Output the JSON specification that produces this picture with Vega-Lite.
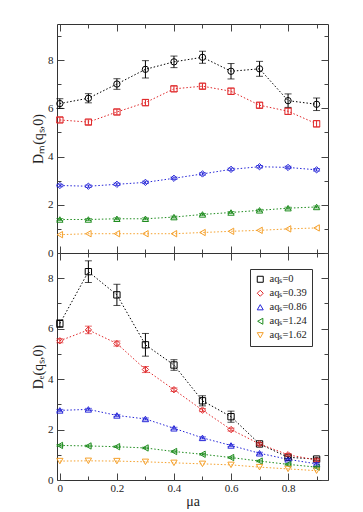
{
  "$schema": "https://vega.github.io/schema/vega-lite/v6.json",
  "background": "white",
  "padding": {"left": 31, "top": 23, "right": 20, "bottom": 5},
  "datasets": {
    "top": [
      {"x": 0.0, "v": 6.2, "e": 0.2, "s": "aqₛ=0"},
      {"x": 0.1, "v": 6.42, "e": 0.19, "s": "aqₛ=0"},
      {"x": 0.2, "v": 7.01, "e": 0.22, "s": "aqₛ=0"},
      {"x": 0.3, "v": 7.62, "e": 0.36, "s": "aqₛ=0"},
      {"x": 0.4, "v": 7.93, "e": 0.24, "s": "aqₛ=0"},
      {"x": 0.5, "v": 8.12, "e": 0.25, "s": "aqₛ=0"},
      {"x": 0.6, "v": 7.54, "e": 0.32, "s": "aqₛ=0"},
      {"x": 0.7, "v": 7.64, "e": 0.31, "s": "aqₛ=0"},
      {"x": 0.8, "v": 6.32, "e": 0.28, "s": "aqₛ=0"},
      {"x": 0.9, "v": 6.17, "e": 0.26, "s": "aqₛ=0"},
      {"x": 0.0, "v": 5.52, "e": 0.1, "s": "aqₛ=0.39"},
      {"x": 0.1, "v": 5.43, "e": 0.1, "s": "aqₛ=0.39"},
      {"x": 0.2, "v": 5.85, "e": 0.11, "s": "aqₛ=0.39"},
      {"x": 0.3, "v": 6.24, "e": 0.13, "s": "aqₛ=0.39"},
      {"x": 0.4, "v": 6.81, "e": 0.11, "s": "aqₛ=0.39"},
      {"x": 0.5, "v": 6.92, "e": 0.11, "s": "aqₛ=0.39"},
      {"x": 0.6, "v": 6.71, "e": 0.13, "s": "aqₛ=0.39"},
      {"x": 0.7, "v": 6.13, "e": 0.11, "s": "aqₛ=0.39"},
      {"x": 0.8, "v": 5.88, "e": 0.13, "s": "aqₛ=0.39"},
      {"x": 0.9, "v": 5.36, "e": 0.13, "s": "aqₛ=0.39"},
      {"x": 0.0, "v": 2.8, "e": 0.05, "s": "aqₛ=0.86"},
      {"x": 0.1, "v": 2.77, "e": 0.05, "s": "aqₛ=0.86"},
      {"x": 0.2, "v": 2.85, "e": 0.05, "s": "aqₛ=0.86"},
      {"x": 0.3, "v": 2.93, "e": 0.05, "s": "aqₛ=0.86"},
      {"x": 0.4, "v": 3.1, "e": 0.05, "s": "aqₛ=0.86"},
      {"x": 0.5, "v": 3.28, "e": 0.05, "s": "aqₛ=0.86"},
      {"x": 0.6, "v": 3.47, "e": 0.05, "s": "aqₛ=0.86"},
      {"x": 0.7, "v": 3.58, "e": 0.05, "s": "aqₛ=0.86"},
      {"x": 0.8, "v": 3.55, "e": 0.05, "s": "aqₛ=0.86"},
      {"x": 0.9, "v": 3.45, "e": 0.05, "s": "aqₛ=0.86"},
      {"x": 0.0, "v": 1.39, "e": 0.04, "s": "aqₛ=1.24"},
      {"x": 0.1, "v": 1.39, "e": 0.04, "s": "aqₛ=1.24"},
      {"x": 0.2, "v": 1.42, "e": 0.04, "s": "aqₛ=1.24"},
      {"x": 0.3, "v": 1.42, "e": 0.04, "s": "aqₛ=1.24"},
      {"x": 0.4, "v": 1.49, "e": 0.04, "s": "aqₛ=1.24"},
      {"x": 0.5, "v": 1.6, "e": 0.04, "s": "aqₛ=1.24"},
      {"x": 0.6, "v": 1.68, "e": 0.04, "s": "aqₛ=1.24"},
      {"x": 0.7, "v": 1.77, "e": 0.04, "s": "aqₛ=1.24"},
      {"x": 0.8, "v": 1.86, "e": 0.04, "s": "aqₛ=1.24"},
      {"x": 0.9, "v": 1.91, "e": 0.04, "s": "aqₛ=1.24"},
      {"x": 0.0, "v": 0.76, "e": 0, "s": "aqₛ=1.62"},
      {"x": 0.1, "v": 0.8, "e": 0, "s": "aqₛ=1.62"},
      {"x": 0.2, "v": 0.8, "e": 0, "s": "aqₛ=1.62"},
      {"x": 0.3, "v": 0.8, "e": 0, "s": "aqₛ=1.62"},
      {"x": 0.4, "v": 0.8, "e": 0, "s": "aqₛ=1.62"},
      {"x": 0.5, "v": 0.85, "e": 0, "s": "aqₛ=1.62"},
      {"x": 0.6, "v": 0.9, "e": 0, "s": "aqₛ=1.62"},
      {"x": 0.7, "v": 0.94, "e": 0, "s": "aqₛ=1.62"},
      {"x": 0.8, "v": 1.0, "e": 0, "s": "aqₛ=1.62"},
      {"x": 0.9, "v": 1.04, "e": 0, "s": "aqₛ=1.62"}
    ],
    "bottom": [
      {"x": 0.0, "v": 6.2, "e": 0.15, "s": "aqₛ=0"},
      {"x": 0.1, "v": 8.26, "e": 0.43, "s": "aqₛ=0"},
      {"x": 0.2, "v": 7.34, "e": 0.42, "s": "aqₛ=0"},
      {"x": 0.3, "v": 5.36, "e": 0.45, "s": "aqₛ=0"},
      {"x": 0.4, "v": 4.56, "e": 0.21, "s": "aqₛ=0"},
      {"x": 0.5, "v": 3.14, "e": 0.2, "s": "aqₛ=0"},
      {"x": 0.6, "v": 2.51, "e": 0.22, "s": "aqₛ=0"},
      {"x": 0.7, "v": 1.43, "e": 0.05, "s": "aqₛ=0"},
      {"x": 0.8, "v": 0.9, "e": 0.05, "s": "aqₛ=0"},
      {"x": 0.9, "v": 0.83, "e": 0.05, "s": "aqₛ=0"},
      {"x": 0.0, "v": 5.52, "e": 0.08, "s": "aqₛ=0.39"},
      {"x": 0.1, "v": 5.95, "e": 0.15, "s": "aqₛ=0.39"},
      {"x": 0.2, "v": 5.41, "e": 0.1, "s": "aqₛ=0.39"},
      {"x": 0.3, "v": 4.38, "e": 0.12, "s": "aqₛ=0.39"},
      {"x": 0.4, "v": 3.58, "e": 0.07, "s": "aqₛ=0.39"},
      {"x": 0.5, "v": 2.77, "e": 0.06, "s": "aqₛ=0.39"},
      {"x": 0.6, "v": 2.0, "e": 0.06, "s": "aqₛ=0.39"},
      {"x": 0.7, "v": 1.43, "e": 0.05, "s": "aqₛ=0.39"},
      {"x": 0.8, "v": 1.0, "e": 0.05, "s": "aqₛ=0.39"},
      {"x": 0.9, "v": 0.79, "e": 0.05, "s": "aqₛ=0.39"},
      {"x": 0.0, "v": 2.76, "e": 0.04, "s": "aqₛ=0.86"},
      {"x": 0.1, "v": 2.8, "e": 0.04, "s": "aqₛ=0.86"},
      {"x": 0.2, "v": 2.56, "e": 0.04, "s": "aqₛ=0.86"},
      {"x": 0.3, "v": 2.42, "e": 0.04, "s": "aqₛ=0.86"},
      {"x": 0.4, "v": 2.05, "e": 0.04, "s": "aqₛ=0.86"},
      {"x": 0.5, "v": 1.67, "e": 0.04, "s": "aqₛ=0.86"},
      {"x": 0.6, "v": 1.37, "e": 0.04, "s": "aqₛ=0.86"},
      {"x": 0.7, "v": 1.06, "e": 0.04, "s": "aqₛ=0.86"},
      {"x": 0.8, "v": 0.82, "e": 0.04, "s": "aqₛ=0.86"},
      {"x": 0.9, "v": 0.64, "e": 0.04, "s": "aqₛ=0.86"},
      {"x": 0.0, "v": 1.37, "e": 0.03, "s": "aqₛ=1.24"},
      {"x": 0.1, "v": 1.35, "e": 0.03, "s": "aqₛ=1.24"},
      {"x": 0.2, "v": 1.32, "e": 0.03, "s": "aqₛ=1.24"},
      {"x": 0.3, "v": 1.27, "e": 0.03, "s": "aqₛ=1.24"},
      {"x": 0.4, "v": 1.13, "e": 0.03, "s": "aqₛ=1.24"},
      {"x": 0.5, "v": 1.02, "e": 0.03, "s": "aqₛ=1.24"},
      {"x": 0.6, "v": 0.89, "e": 0.03, "s": "aqₛ=1.24"},
      {"x": 0.7, "v": 0.75, "e": 0.03, "s": "aqₛ=1.24"},
      {"x": 0.8, "v": 0.62, "e": 0.03, "s": "aqₛ=1.24"},
      {"x": 0.9, "v": 0.51, "e": 0.03, "s": "aqₛ=1.24"},
      {"x": 0.0, "v": 0.75, "e": 0, "s": "aqₛ=1.62"},
      {"x": 0.1, "v": 0.76, "e": 0, "s": "aqₛ=1.62"},
      {"x": 0.2, "v": 0.75, "e": 0, "s": "aqₛ=1.62"},
      {"x": 0.3, "v": 0.72, "e": 0, "s": "aqₛ=1.62"},
      {"x": 0.4, "v": 0.68, "e": 0, "s": "aqₛ=1.62"},
      {"x": 0.5, "v": 0.64, "e": 0, "s": "aqₛ=1.62"},
      {"x": 0.6, "v": 0.6, "e": 0, "s": "aqₛ=1.62"},
      {"x": 0.7, "v": 0.51, "e": 0, "s": "aqₛ=1.62"},
      {"x": 0.8, "v": 0.44, "e": 0, "s": "aqₛ=1.62"},
      {"x": 0.9, "v": 0.37, "e": 0, "s": "aqₛ=1.62"}
    ]
  },
  "vconcat": [
    {
      "width": 271,
      "height": 229,
      "data": {"name": "top"},
      "layer": [
        {
          "mark": {"type": "line", "strokeDash": [1.5, 2], "strokeWidth": 1},
          "encoding": {
            "x": {"field": "x", "type": "quantitative", "scale": {"domain": [-0.01, 0.94], "nice": false, "zero": false},
              "axis": {"orient": "bottom", "values": [0, 0.1, 0.2, 0.3, 0.4, 0.5, 0.6, 0.7, 0.8, 0.9], "labels": false, "title": null, "minExtent": 0, "maxExtent": 0,
                "tickSize": {"condition": {"test": "round(datum.value*10) % 2 == 0", "value": -7}, "value": -4}}},
            "y": {"field": "v", "type": "quantitative", "scale": {"domain": [0, 9.5], "nice": false},
              "axis": {"orient": "left", "values": [0, 1, 2, 3, 4, 5, 6, 7, 8, 9], "labelExpr": "datum.value % 2 == 0 ? datum.label : ''",
                "tickSize": {"condition": {"test": "datum.value % 2 == 0", "value": -7}, "value": -4},
                "labelPadding": 11, "title": "Dₘ(qₛ,0)", "titlePadding": 2}},
            "color": {"field": "s", "type": "nominal", "legend": null,
              "scale": {"domain": ["aqₛ=0", "aqₛ=0.39", "aqₛ=0.86", "aqₛ=1.24", "aqₛ=1.62"], "range": ["#000000", "#e0282a", "#2626d8", "#1e8c1e", "#f5a02a"]}}
          }
        },
        {
          "mark": {"type": "point", "filled": false, "size": 40, "strokeWidth": 1, "opacity": 1},
          "encoding": {
            "x": {"field": "x", "type": "quantitative",
              "axis": {"orient": "top", "values": [0, 0.1, 0.2, 0.3, 0.4, 0.5, 0.6, 0.7, 0.8, 0.9], "labels": false, "title": null, "minExtent": 0, "maxExtent": 0,
                "tickSize": {"condition": {"test": "round(datum.value*10) % 2 == 0", "value": -7}, "value": -4}}},
            "y": {"field": "v", "type": "quantitative",
              "axis": {"orient": "right", "values": [0, 1, 2, 3, 4, 5, 6, 7, 8, 9], "labels": false, "title": null, "minExtent": 0, "maxExtent": 0,
                "tickSize": {"condition": {"test": "datum.value % 2 == 0", "value": -7}, "value": -4}}},
            "color": {"field": "s", "type": "nominal", "legend": null},
            "shape": {"field": "s", "type": "nominal", "legend": null,
              "scale": {"domain": ["aqₛ=0", "aqₛ=0.39", "aqₛ=0.86", "aqₛ=1.24", "aqₛ=1.62"], "range": ["circle", "square", "diamond", "triangle-up", "triangle-left"]}}
          }
        },
        {
          "transform": [{"filter": "datum.s == 'aqₛ=0'"}],
          "mark": {"type": "errorbar", "ticks": {"size": 7}, "thickness": 1, "color": "#000000"},
          "encoding": {"x": {"field": "x", "type": "quantitative", "axis": null}, "y": {"field": "v", "type": "quantitative", "axis": null}, "yError": {"field": "e"}}
        },
        {
          "transform": [{"filter": "datum.s == 'aqₛ=0.39'"}],
          "mark": {"type": "errorbar", "ticks": {"size": 7}, "thickness": 1, "color": "#e0282a"},
          "encoding": {"x": {"field": "x", "type": "quantitative", "axis": null}, "y": {"field": "v", "type": "quantitative", "axis": null}, "yError": {"field": "e"}}
        },
        {
          "transform": [{"filter": "datum.s == 'aqₛ=0.86'"}],
          "mark": {"type": "errorbar", "ticks": {"size": 7}, "thickness": 1, "color": "#2626d8"},
          "encoding": {"x": {"field": "x", "type": "quantitative", "axis": null}, "y": {"field": "v", "type": "quantitative", "axis": null}, "yError": {"field": "e"}}
        },
        {
          "transform": [{"filter": "datum.s == 'aqₛ=1.24'"}],
          "mark": {"type": "errorbar", "ticks": {"size": 7}, "thickness": 1, "color": "#1e8c1e"},
          "encoding": {"x": {"field": "x", "type": "quantitative", "axis": null}, "y": {"field": "v", "type": "quantitative", "axis": null}, "yError": {"field": "e"}}
        }
      ],
      "resolve": {"axis": {"x": "independent", "y": "independent"}}
    },
    {
      "width": 271,
      "height": 227,
      "data": {"name": "bottom"},
      "layer": [
        {
          "mark": {"type": "line", "strokeDash": [1.5, 2], "strokeWidth": 1},
          "encoding": {
            "x": {"field": "x", "type": "quantitative", "scale": {"domain": [-0.01, 0.94], "nice": false, "zero": false},
              "axis": {"orient": "bottom", "values": [0, 0.1, 0.2, 0.3, 0.4, 0.5, 0.6, 0.7, 0.8, 0.9],
                "labelExpr": "round(datum.value*10) % 2 == 0 ? format(datum.value, '~g') : ''",
                "tickSize": {"condition": {"test": "round(datum.value*10) % 2 == 0", "value": -7}, "value": -4},
                "labelPadding": 9, "title": "μa", "titlePadding": 1}},
            "y": {"field": "v", "type": "quantitative", "scale": {"domain": [0, 9], "nice": false},
              "axis": {"orient": "left", "values": [0, 1, 2, 3, 4, 5, 6, 7, 8, 9], "labelExpr": "datum.value % 2 == 0 ? datum.label : ''",
                "tickSize": {"condition": {"test": "datum.value % 2 == 0", "value": -7}, "value": -4},
                "labelPadding": 11, "title": "Dₑ(qₛ,0)", "titlePadding": 2}},
            "color": {"field": "s", "type": "nominal",
              "scale": {"domain": ["aqₛ=0", "aqₛ=0.39", "aqₛ=0.86", "aqₛ=1.24", "aqₛ=1.62"], "range": ["#000000", "#e0282a", "#2626d8", "#1e8c1e", "#f5a02a"]},
              "legend": {"orient": "top-right", "offset": 16, "symbolSize": 36, "rowPadding": 3, "labelOffset": 4,
                "labelFont": "Liberation Serif", "labelFontSize": 10.5, "symbolStrokeWidth": 1, "symbolFillColor": "transparent"}}
          }
        },
        {
          "mark": {"type": "point", "filled": false, "size": 40, "strokeWidth": 1, "opacity": 1},
          "encoding": {
            "x": {"field": "x", "type": "quantitative",
              "axis": {"orient": "top", "values": [0, 0.1, 0.2, 0.3, 0.4, 0.5, 0.6, 0.7, 0.8, 0.9], "labels": false, "title": null, "minExtent": 0, "maxExtent": 0,
                "tickSize": {"condition": {"test": "round(datum.value*10) % 2 == 0", "value": -7}, "value": -4}}},
            "y": {"field": "v", "type": "quantitative",
              "axis": {"orient": "right", "values": [0, 1, 2, 3, 4, 5, 6, 7, 8, 9], "labels": false, "title": null, "minExtent": 0, "maxExtent": 0,
                "tickSize": {"condition": {"test": "datum.value % 2 == 0", "value": -7}, "value": -4}}},
            "color": {"field": "s", "type": "nominal"},
            "shape": {"field": "s", "type": "nominal",
              "scale": {"domain": ["aqₛ=0", "aqₛ=0.39", "aqₛ=0.86", "aqₛ=1.24", "aqₛ=1.62"], "range": ["square", "diamond", "triangle-up", "triangle-left", "triangle-down"]}}
          }
        },
        {
          "transform": [{"filter": "datum.s == 'aqₛ=0'"}],
          "mark": {"type": "errorbar", "ticks": {"size": 7}, "thickness": 1, "color": "#000000"},
          "encoding": {"x": {"field": "x", "type": "quantitative", "axis": null}, "y": {"field": "v", "type": "quantitative", "axis": null}, "yError": {"field": "e"}}
        },
        {
          "transform": [{"filter": "datum.s == 'aqₛ=0.39'"}],
          "mark": {"type": "errorbar", "ticks": {"size": 7}, "thickness": 1, "color": "#e0282a"},
          "encoding": {"x": {"field": "x", "type": "quantitative", "axis": null}, "y": {"field": "v", "type": "quantitative", "axis": null}, "yError": {"field": "e"}}
        },
        {
          "transform": [{"filter": "datum.s == 'aqₛ=0.86'"}],
          "mark": {"type": "errorbar", "ticks": {"size": 7}, "thickness": 1, "color": "#2626d8"},
          "encoding": {"x": {"field": "x", "type": "quantitative", "axis": null}, "y": {"field": "v", "type": "quantitative", "axis": null}, "yError": {"field": "e"}}
        },
        {
          "transform": [{"filter": "datum.s == 'aqₛ=1.24'"}],
          "mark": {"type": "errorbar", "ticks": {"size": 7}, "thickness": 1, "color": "#1e8c1e"},
          "encoding": {"x": {"field": "x", "type": "quantitative", "axis": null}, "y": {"field": "v", "type": "quantitative", "axis": null}, "yError": {"field": "e"}}
        }
      ],
      "resolve": {"axis": {"x": "independent", "y": "independent"}}
    }
  ],
  "spacing": 0,
  "bounds": "flush",
  "resolve": {"scale": {"y": "independent", "color": "independent", "shape": "independent"}, "legend": {"color": "independent", "shape": "independent"}},
  "config": {
    "font": "Liberation Serif",
    "view": {"stroke": "#333333", "strokeWidth": 1},
    "axis": {"domain": false, "grid": false, "labelFont": "Liberation Serif", "labelFontSize": 11, "labelColor": "#222222",
      "tickColor": "#444444", "tickWidth": 1, "titleFont": "Liberation Serif", "titleFontSize": 14, "titleFontWeight": "normal", "titleColor": "#222222"},
    "legend": {"title": null, "strokeColor": "#333333", "fillColor": "white", "padding": 5,
      "labelFont": "Liberation Serif", "labelFontSize": 10.5, "labelColor": "#222222", "symbolStrokeWidth": 1}
  }
}
